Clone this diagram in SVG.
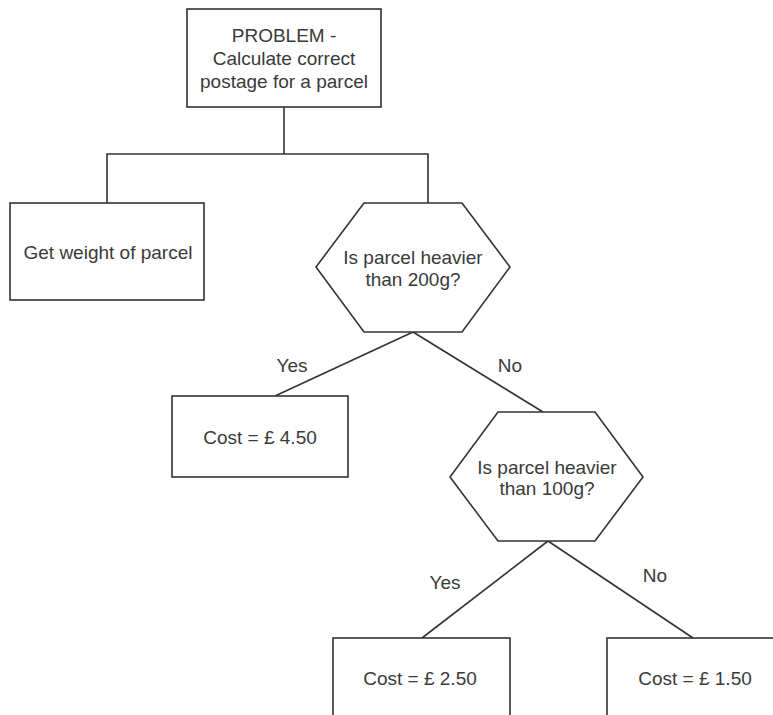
<svg xmlns="http://www.w3.org/2000/svg" width="773" height="715" viewBox="0 0 773 715">
<style>
.n{fill:#fff;stroke:#333;stroke-width:1.6}
.c{fill:none;stroke:#333;stroke-width:1.6}
text{font-family:"Liberation Sans",Arial,sans-serif;font-size:19px;fill:#3a3a3a;text-anchor:middle}
</style>
<rect width="773" height="715" fill="#fff"/>
<g id="connectors">
<polyline class="c" points="284,107 284,154"/>
<polyline class="c" points="107,203 107,154 428,154 428,203"/>
<line class="c" x1="413" y1="332" x2="275" y2="396"/>
<line class="c" x1="413" y1="332" x2="543" y2="412"/>
<line class="c" x1="548" y1="541" x2="422" y2="638"/>
<line class="c" x1="548" y1="541" x2="693" y2="638"/>
<text x="292" y="372">Yes</text>
<text x="510" y="372">No</text>
<text x="445" y="589">Yes</text>
<text x="655" y="582">No</text>
</g>
<g id="problem">
<rect class="n" x="187" y="9" width="194" height="98"/>
<text x="284" y="42">PROBLEM -</text>
<text x="284" y="65">Calculate correct</text>
<text x="284" y="88">postage for a parcel</text>
</g>
<g id="weight">
<rect class="n" x="10" y="203" width="194" height="97"/>
<text x="108" y="259">Get weight of parcel</text>
</g>
<g id="q200">
<polygon class="n" points="364,203 462,203 510,267 462,332 364,332 316,267"/>
<text x="413" y="264">Is parcel heavier</text>
<text x="413" y="286">than 200g?</text>
</g>
<g id="cost450">
<rect class="n" x="172" y="396" width="176" height="81"/>
<text x="260" y="444">Cost = £ 4.50</text>
</g>
<g id="q100">
<polygon class="n" points="498,412 595,412 643,477 595,541 498,541 450,477"/>
<text x="547" y="474">Is parcel heavier</text>
<text x="547" y="495">than 100g?</text>
</g>
<g id="cost250">
<rect class="n" x="333" y="638" width="177" height="100"/>
<text x="420" y="685">Cost = £ 2.50</text>
</g>
<g id="cost150">
<rect class="n" x="607" y="638" width="180" height="100"/>
<text x="695" y="685">Cost = £ 1.50</text>
</g>
</svg>
